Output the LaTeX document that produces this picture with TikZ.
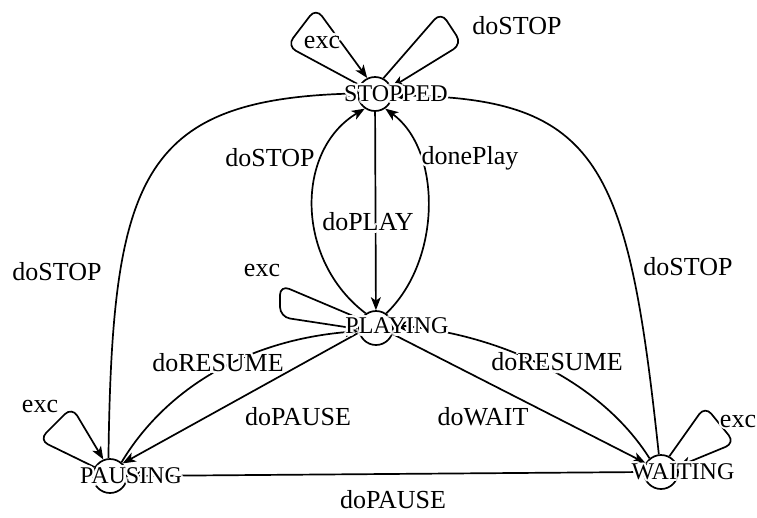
\documentclass[tikz,border=0pt]{standalone}
\usepackage{fontspec}
\setmainfont{Liberation Serif}
\usetikzlibrary{arrows.meta}
\tikzset{
  state/.style={circle, draw, line width=1.7pt, minimum size=34pt, inner sep=0pt},
  edge/.style={line width=1.7pt, -{Stealth[length=13pt,width=10pt,inset=3.5pt]}},
  loopedge/.style={edge, rounded corners=10pt},
  elabel/.style={inner sep=0pt, font=\fontsize{26}{30}\selectfont},
  slabel/.style={inner sep=0pt, font=\fontsize{24}{28}\selectfont},
}
% text with a white halo: white copies around, black copy on top
\newcommand\halolabel[4]{%
  \foreach \ang in {0,30,...,330}{%
    \node[#1, text=white, xshift={2.2pt*cos(\ang)}, yshift={2.2pt*sin(\ang)}] (#2-h\ang) at (#3) {#4};}%
  \node[#1] (#2) at (#3) {#4};}
\begin{document}
\begin{tikzpicture}[x=1pt,y=-1pt]
\useasboundingbox (0,0) rectangle (757,517);

% states
\node[state] (S) at (375,94) {};
\node[state] (P) at (376,328) {};
\node[state] (A) at (110,476) {};
\node[state] (W) at (661,472) {};

% self loops
\draw[loopedge] (S.150) -- (287,46) -- (316,8) -- (S.116);
\draw[loopedge] (S.62) -- (441,12) -- (462,44) -- (S.22);
\draw[loopedge] (P.150) -- (280,285) -- (280,317) -- (P.183);
\draw[loopedge] (A.150) -- (39,440) -- (72,407) -- (A.112);
\draw[loopedge] (W.62) -- (705,406) -- (735,443) -- (W.18);

% STOPPED <-> PLAYING
\draw[edge] (S) -- (P);
\draw[edge] (P.125) .. controls (295,260) and (295,150) .. (S.235);
\draw[edge] (P.55) .. controls (442,260) and (442,150) .. (S.305);

% back to STOPPED from the lower corners
\draw[edge] (A.95) .. controls (112,180) and (140,100) .. (S.178);
\draw[edge] (W.97) .. controls (628,165) and (600,97) .. (S.355);

% PLAYING <-> PAUSING / WAITING
\draw[edge] (P.195) -- (A.45);
\draw[edge] (P.340) -- (W.150);
\draw[edge] (A.50) .. controls (165,390) and (245,340) .. (P.190);
\draw[edge] (W.130) .. controls (600,380) and (500,335) .. (P.10);
\draw[edge] (W.west) -- (A.east);

% state names
\halolabel{slabel}{Sl}{[xshift=21pt]S.center}{STOPPED}
\halolabel{slabel}{Pl}{[xshift=21pt,yshift=2pt]P.center}{PLAYING}
\halolabel{slabel}{Al}{[xshift=21pt]A.center}{PAUSING}
\halolabel{slabel}{Wl}{[xshift=22pt]W.center}{WAITING}

% transition labels
\halolabel{elabel}{l1}{322,42}{exc}
\halolabel{elabel}{l2}{517,26}{doSTOP}
\halolabel{elabel}{l3}{368,222}{doPLAY}
\halolabel{elabel}{l4}{270,158}{doSTOP}
\halolabel{elabel}{l5}{470,158}{donePlay}
\halolabel{elabel}{l6}{57,272}{doSTOP}
\halolabel{elabel}{l7}{688,267}{doSTOP}
\halolabel{elabel}{l8}{262,270}{exc}
\halolabel{elabel}{l9}{218,363}{doRESUME}
\halolabel{elabel}{l10}{298,417}{doPAUSE}
\halolabel{elabel}{l11}{483,417}{doWAIT}
\halolabel{elabel}{l12}{557,362}{doRESUME}
\halolabel{elabel}{l13}{393,500}{doPAUSE}
\halolabel{elabel}{l14}{40,406}{exc}
\halolabel{elabel}{l15}{738,421}{exc}
\end{tikzpicture}
\end{document}
